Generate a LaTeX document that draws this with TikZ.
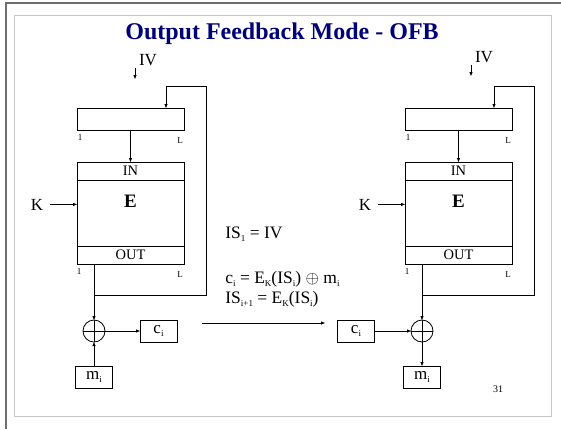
\documentclass[tikz,border=0pt]{standalone}
\usepackage{fontspec}
\setmainfont{Liberation Serif}
\usepackage{tikz}
\usetikzlibrary{arrows.meta}
\definecolor{titleblue}{RGB}{0,0,120}
\definecolor{framegray}{RGB}{110,110,110}
\definecolor{pagegray}{RGB}{200,200,200}
\newcommand{\lowsub}[1]{\raisebox{-0.45ex}{\fontsize{9}{10}\selectfont #1}}

\begin{document}
\begin{tikzpicture}[
  x=1pt, y=-1pt,
  line width=0.8pt,
  regbox/.style={draw, inner sep=0pt, outer sep=0pt, minimum width=107pt, minimum height=22pt},
  ebox/.style={draw, inner sep=0pt, outer sep=0pt, minimum width=107pt, minimum height=102pt},
  bandbox/.style={draw, inner sep=0pt, outer sep=0pt, minimum width=107pt, minimum height=18pt, font=\fontsize{14.5}{16}\selectfont},
  valbox/.style={draw, inner sep=0pt, outer sep=0pt, minimum width=37pt, minimum height=22pt, font=\fontsize{17}{19}\selectfont},
  xorc/.style={draw, circle, inner sep=0pt, outer sep=0pt, minimum size=22pt},
  bitlab/.style={font=\fontsize{9}{10}\selectfont, inner sep=0pt, anchor=base},
  lab/.style={font=\fontsize{17}{19}\selectfont, inner sep=0pt, anchor=base},
  eq/.style={font=\fontsize{17.5}{20}\selectfont, inner sep=0pt, anchor=base west},
  arr/.style={-{Triangle[length=4pt,width=3pt]}}
]
\useasboundingbox (0,0) rectangle (561,429);

\draw[pagegray, line width=1pt] (14,15) rectangle (551,416);
\draw[framegray, line width=2pt] (6,429) -- (6,3) -- (561,3);

\node[font=\bfseries\fontsize{24}{26}\selectfont, text=titleblue, anchor=base] (title) at (282,39) {Output Feedback Mode - OFB};

\foreach \s/\dx/\ivx/\ivy in {a/0/148/65, b/328/484/62} {
  \node[regbox] (reg\s) at (\dx+130.5,119) {};
  \node[lab] (iv\s) at (\ivx,\ivy) {IV};
  \coordinate (ivtop\s) at (\ivx-13,\ivy+3);
  \coordinate (ivend\s) at (\ivx-13,\ivy+14);
  \draw[arr] (ivtop\s) -- (ivend\s);
  \node[bitlab] at (\dx+80,140) {1};
  \node[bitlab] at (\dx+180,143) {L};
  \node[ebox] (e\s) at (\dx+130.5,213) {};
  \node[bandbox, anchor=north] (in\s) at (e\s.north) {IN};
  \node[bandbox, anchor=south] (out\s) at (e\s.south) {OUT};
  \node[font=\bfseries\fontsize{19}{21}\selectfont, inner sep=0pt, anchor=base] (ename\s) at (\dx+130.5,207) {E};
  \node[bitlab] at (\dx+79,274) {1};
  \node[bitlab] at (\dx+180,277) {L};
  \draw[arr] (reg\s.south) -- (in\s.north);
  \node[lab] (k\s) at (\dx+37,210) {K};
  \draw[arr] ([xshift=6pt]k\s.east) -- (e\s.west |- k\s.east);
  \node[xorc] (x\s) at (\dx+94,331) {};
  \draw (x\s.north) -- (x\s.south) (x\s.west) -- (x\s.east);
  \draw[arr] (out\s.south -| x\s) -- (x\s.north);
  \coordinate (tap\s) at (\dx+94,295);
  \coordinate (fb\s) at (\dx+206,86);
  \draw[arr] (tap\s) -| (fb\s) -| ([xshift=35.5pt]reg\s.north);
}

\node[valbox] (ca) at (158.5,331) {c\lowsub{i}};
\node[valbox] (ma) at (94,377) {m\lowsub{i}};
\draw[arr] (xa.east) -- (ca.west);
\draw[arr] (ma.north) -- (xa.south);

\node[valbox] (cb) at (356,331) {c\lowsub{i}};
\node[valbox] (mb) at (422,377) {m\lowsub{i}};
\draw[arr] (cb.east) -- (xb.west);
\draw[arr] (xb.south) -- (mb.north);

\node[eq] (isone) at (225,238) {IS\lowsub{1} = IV};
\node[eq] (cieq) at (225,283) {c\lowsub{i} = E\lowsub{K}(IS\lowsub{i}) $\oplus$ m\lowsub{i}};
\node[eq] (isnext) at (225,303) {IS\lowsub{i+1} = E\lowsub{K}(IS\lowsub{i})};
\coordinate (goleft) at (202,323);
\coordinate (goright) at (325,323);
\draw[arr] (goleft) -- (goright);

\node[font=\fontsize{10}{11}\selectfont, inner sep=0pt, anchor=base] (pagenum) at (498,392) {31};
\end{tikzpicture}
\end{document}
